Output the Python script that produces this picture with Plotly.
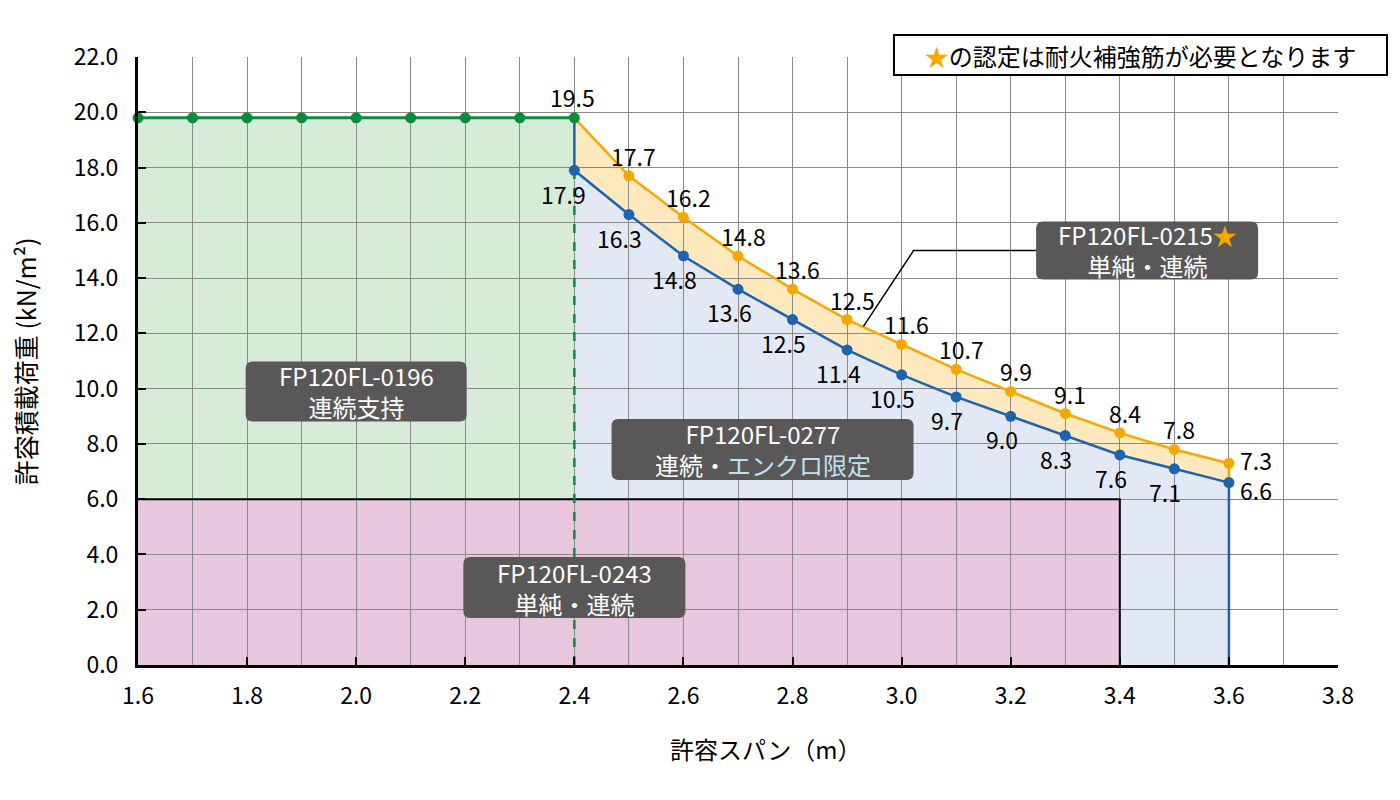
import plotly.graph_objects as go

# %% data
span_green = [1.6, 1.7, 1.8, 1.9, 2.0, 2.1, 2.2, 2.3, 2.4]
load_green = [19.8] * 9
green_label = "19.5"

span_curve = [2.4, 2.5, 2.6, 2.7, 2.8, 2.9, 3.0, 3.1, 3.2, 3.3, 3.4, 3.5, 3.6]
load_orange = [19.8, 17.7, 16.2, 14.8, 13.6, 12.5, 11.6, 10.7, 9.9, 9.1, 8.4, 7.8, 7.3]
load_blue = [17.9, 16.3, 14.8, 13.6, 12.5, 11.4, 10.5, 9.7, 9.0, 8.3, 7.6, 7.1, 6.6]

# FP120FL-0243 region (span limit, load limit)
pink_span_max = 3.4
pink_load_max = 6.0

x_ticks = [1.6, 1.8, 2.0, 2.2, 2.4, 2.6, 2.8, 3.0, 3.2, 3.4, 3.6, 3.8]
y_ticks = [0, 2, 4, 6, 8, 10, 12, 14, 16, 18, 20, 22]

leader_x = [3.248, 3.022, 2.93]
leader_y = [15.0, 15.0, 12.25]

FONT = "Noto Sans CJK JP"
GREEN = "#0b8c3a"
ORANGE = "#f5a800"
BLUE = "#1d63b0"
BOXC = "#595757"


def poly(xs, ys):
    pts = ["%s,%s" % (x, y) for x, y in zip(xs, ys)]
    return "M " + " L ".join(pts) + " Z"


def rounded(w, h, r):
    a, b = w / 2, h / 2
    return (f"M {-a+r},{-b} L {a-r},{-b} Q {a},{-b} {a},{-b+r} L {a},{b-r} Q {a},{b} {a-r},{b} "
            f"L {-a+r},{b} Q {-a},{b} {-a},{b-r} L {-a},{-b+r} Q {-a},{-b} {-a+r},{-b} Z")


fig = go.Figure()

x0, x1 = span_curve[0], span_curve[-1]
shapes = []
# lavender: under blue curve
shapes.append(dict(type="path", layer="below", line_width=0, fillcolor="#e3e8f5",
                   path=poly([x0] + span_curve + [x1], [0] + load_blue + [0])))
# orange band between curves
shapes.append(dict(type="path", layer="below", line_width=0, fillcolor="#fde9bd",
                   path=poly(span_curve + span_curve[::-1], load_orange + load_blue[::-1])))
# pink
shapes.append(dict(type="rect", layer="below", line_width=0, fillcolor="#e7c6de",
                   x0=span_green[0], x1=pink_span_max, y0=0, y1=pink_load_max))
# green
shapes.append(dict(type="rect", layer="below", line_width=0, fillcolor="#d6ebd8",
                   x0=span_green[0], x1=span_green[-1], y0=pink_load_max, y1=load_green[-1]))

# pink border lines
fig.add_trace(go.Scatter(x=[span_green[0], pink_span_max, pink_span_max],
                         y=[pink_load_max, pink_load_max, 0], mode="lines",
                         line=dict(color="black", width=2), hoverinfo="skip"))
# dashed green at 2.4
fig.add_trace(go.Scatter(x=[x0, x0], y=[0, load_blue[0]], mode="lines",
                         line=dict(color=GREEN, width=2.5, dash="dash"), hoverinfo="skip"))
# orange
fig.add_trace(go.Scatter(x=span_curve + [x1], y=load_orange + [load_blue[-1]], mode="lines",
                         line=dict(color=ORANGE, width=2.5)))
fig.add_trace(go.Scatter(x=span_curve[1:], y=load_orange[1:], mode="markers",
                         marker=dict(color=ORANGE, size=11)))
# blue
fig.add_trace(go.Scatter(x=[x0] + span_curve + [x1], y=[load_green[-1]] + load_blue + [0],
                         mode="lines", line=dict(color=BLUE, width=2.5)))
fig.add_trace(go.Scatter(x=span_curve, y=load_blue, mode="markers",
                         marker=dict(color=BLUE, size=11)))
# green
fig.add_trace(go.Scatter(x=span_green, y=load_green, mode="lines+markers", cliponaxis=False,
                         line=dict(color=GREEN, width=3), marker=dict(color=GREEN, size=11)))
# leader
fig.add_trace(go.Scatter(x=leader_x, y=leader_y, mode="lines",
                         line=dict(color="black", width=1.5), hoverinfo="skip"))

ann = []
lab_font = dict(family=FONT, size=23, color="black")
ann.append(dict(x=span_green[-1], y=load_green[-1], text=green_label, showarrow=False,
                xshift=-2, yshift=21, font=lab_font))
for i, (x, yo, yb) in enumerate(zip(span_curve, load_orange, load_blue)):
    if i == 0:
        ann.append(dict(x=x, y=yb, text="%.1f" % yb, showarrow=False,
                        xshift=-11, yshift=-24, font=lab_font))
        continue
    if i == len(span_curve) - 1:
        ann.append(dict(x=x, y=yo, text="%.1f" % yo, showarrow=False, xanchor="left",
                        xshift=9, yshift=3, font=lab_font))
        ann.append(dict(x=x, y=yb, text="%.1f" % yb, showarrow=False, xanchor="left",
                        xshift=9, yshift=-7, font=lab_font))
        continue
    ann.append(dict(x=x, y=yo, text="%.1f" % yo, showarrow=False,
                    xshift=5, yshift=20, font=lab_font))
    ann.append(dict(x=x, y=yb, text="%.1f" % yb, showarrow=False,
                    xshift=-9, yshift=-23, font=lab_font))

boxes = [
    (2.0, 9.9, 221, 60, "FP120FL-0196", "連続支持"),
    (2.745, 7.8, 302, 61, "FP120FL-0277",
     '連続・<span style="color:#bde3f5">エンクロ限定</span>'),
    (2.4, 2.8, 222, 61, "FP120FL-0243", "単純・連続"),
    (3.45, 15.0, 222, 58, 'FP120FL-0215<span style="color:#f5a800">★</span>', "単純・連続"),
]
box_font = dict(family=FONT, size=24, color="white")
for cx, cy, w, h, t1, t2 in boxes:
    shapes.append(dict(type="path", layer="above", xref="x", yref="y",
                       xsizemode="pixel", ysizemode="pixel", xanchor=cx, yanchor=cy,
                       path=rounded(w, h, 7), fillcolor=BOXC, line_width=0))
    ann.append(dict(x=cx, y=cy, text=t1 + "<br>" + t2, showarrow=False, borderpad=0,
                    font=box_font))

ann.append(dict(xref="paper", yref="paper", x=0.835, y=1.003, xanchor="center", yanchor="middle",
                text='<span style="color:#f5a800">★</span>の認定は耐火補強筋が必要となります',
                showarrow=False, bgcolor="white", bordercolor="black", borderwidth=2,
                borderpad=2, width=487, height=34, font=dict(family=FONT, size=24, color="black")))
ann.append(dict(xref="paper", yref="paper", x=0.523, y=-0.138, xanchor="center", yanchor="middle",
                text="許容スパン（m）",
                showarrow=False, font=dict(family=FONT, size=24, color="black")))
ann.append(dict(xref="paper", yref="paper", x=-0.094, y=0.5, xanchor="center", yanchor="middle",
                text="許容積載荷重 (kN/m²)",
                textangle=-90, showarrow=False, font=dict(family=FONT, size=25, color="black")))

fig.update_layout(
    width=1400, height=800,
    margin=dict(l=130, r=70, t=49, b=143),
    paper_bgcolor="white", plot_bgcolor="white",
    showlegend=False, shapes=shapes, annotations=ann,
    font=dict(family=FONT, size=22, color="black"),
)
fig.update_xaxes(range=[1.6, 3.8], tickvals=x_ticks, ticktext=["%.1f" % v for v in x_ticks],
                 showgrid=True, gridcolor="#8a8a8a", gridwidth=1.2,
                 minor=dict(dtick=0.1, tick0=1.6, showgrid=True, gridcolor="#8a8a8a", gridwidth=1.2),
                 showline=True, linecolor="black", linewidth=3, ticks="inside", ticklen=8,
                 tickwidth=2, tickcolor="black", ticklabelstandoff=8, zeroline=False,
                 tickfont=dict(family=FONT, size=23))
fig.update_yaxes(range=[0, 22], tickvals=y_ticks, ticktext=["%.1f" % v for v in y_ticks],
                 showgrid=True, gridcolor="#8a8a8a", gridwidth=1.2,
                 showline=True, linecolor="black", linewidth=3, ticks="inside", ticklen=8,
                 tickwidth=2, tickcolor="black", ticklabelstandoff=12, zeroline=False,
                 tickfont=dict(family=FONT, size=23))

fig.write_html("out.html")
